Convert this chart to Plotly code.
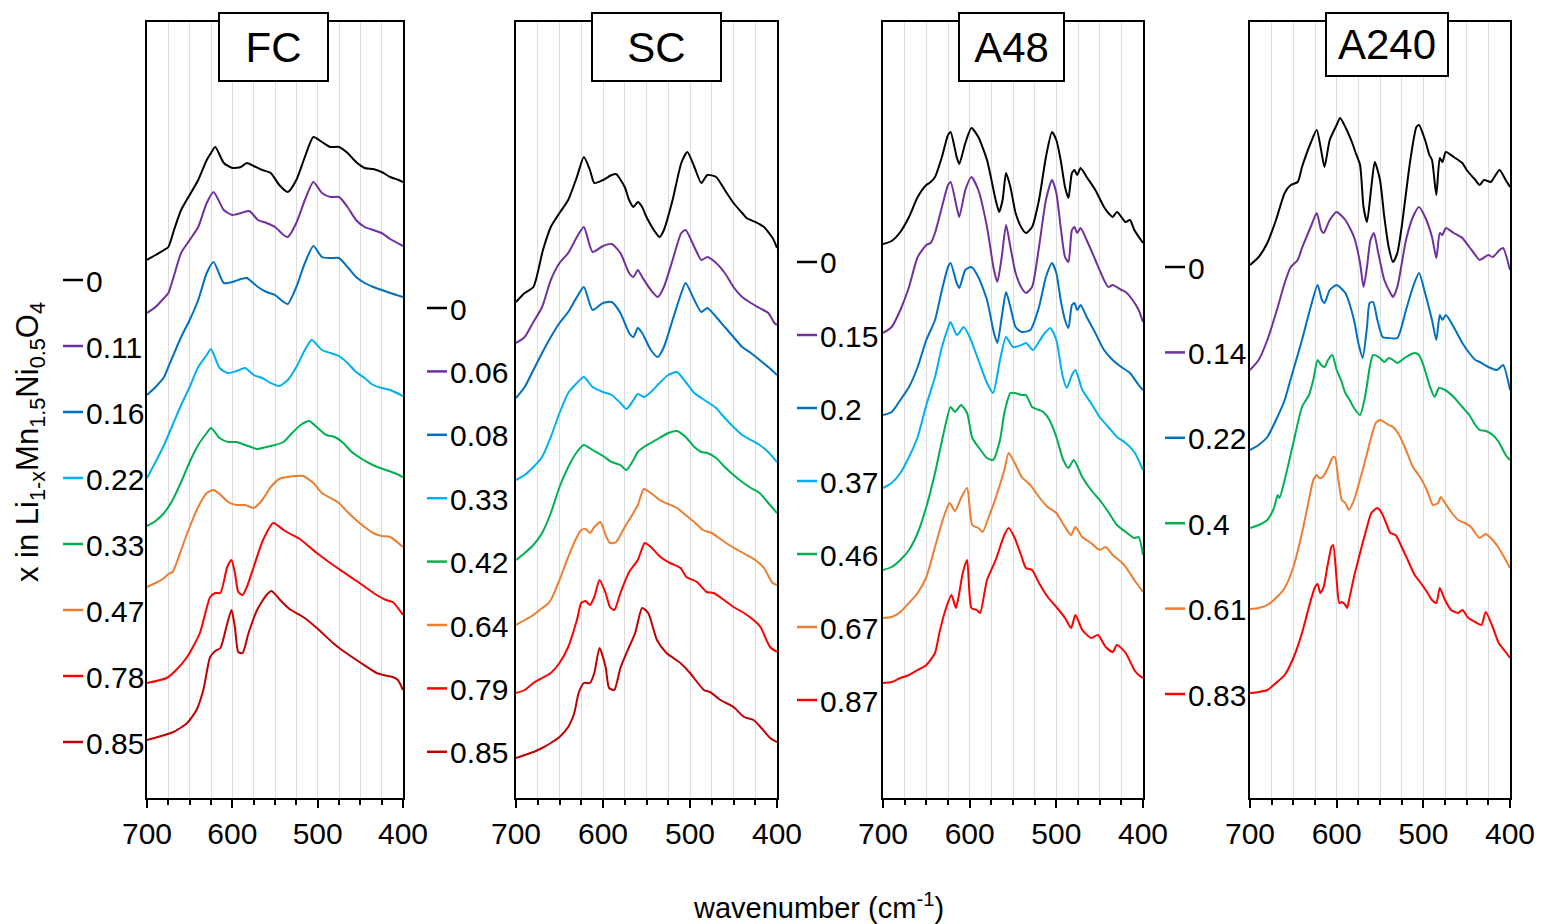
import plotly.graph_objects as go

# ---------------- data: (wavenumber cm-1, stacked absorbance, arb. units) ----------------
FC_LABELS = ["0", "0.11", "0.16", "0.22", "0.33", "0.47", "0.78", "0.85"]
SC_LABELS = ["0", "0.06", "0.08", "0.33", "0.42", "0.64", "0.79", "0.85"]
A48_LABELS = ["0", "0.15", "0.2", "0.37", "0.46", "0.67", "0.87"]
A240_LABELS = ["0", "0.14", "0.22", "0.4", "0.61", "0.83"]

BLACK, PURPLE, BLUE, LBLUE = "#000000", "#7030A0", "#0070C0", "#00B0F0"
GREEN, ORANGE, RED, DRED = "#00B050", "#ED7D31", "#FF0000", "#C00000"
FC_COLORS = [BLACK, PURPLE, BLUE, LBLUE, GREEN, ORANGE, RED, DRED]
SC_COLORS = [BLACK, PURPLE, BLUE, LBLUE, GREEN, ORANGE, RED, DRED]
A48_COLORS = [BLACK, PURPLE, BLUE, LBLUE, GREEN, ORANGE, RED]
A240_COLORS = [BLACK, PURPLE, BLUE, GREEN, ORANGE, RED]

fc_0 = [(700,538),(690,543),(680,548),(675,551),(668,569),(660,588),(650,603),(640,618),(630,638),(625,645),(620,651),(610,635),(600,630),(590,631),(583,635),(575,632),(565,628),(555,625),(545,613),(535,606),(525,618),(515,641),(505,661),(495,656),(485,651),(475,651),(465,645),(455,636),(445,630),(435,629),(425,626),(415,621),(405,618),(400,616)]
fc_011 = [(700,485),(690,491),(680,500),(675,505),(660,545),(650,558),(640,571),(630,595),(622,606),(610,588),(600,583),(590,585),(580,587),(570,578),(560,575),(550,571),(540,563),(535,561),(525,575),(515,598),(505,616),(495,605),(485,601),(475,601),(465,591),(455,578),(445,571),(435,568),(425,565),(415,559),(400,552)]
fc_016 = [(700,403),(690,411),(680,421),(675,431),(660,461),(650,478),(640,498),(630,525),(622,536),(610,515),(600,516),(590,519),(583,520),(570,511),(560,506),(550,503),(540,496),(535,494),(525,511),(515,535),(505,552),(495,541),(485,540),(475,540),(465,531),(455,521),(445,515),(435,511),(425,508),(415,505),(400,501)]
fc_022 = [(700,320),(690,336),(680,353),(670,373),(660,393),(650,411),(640,431),(630,443),(625,449),(615,430),(605,425),(595,427),(585,430),(575,423),(565,420),(555,415),(545,412),(535,418),(525,431),(515,448),(507,458),(495,448),(485,445),(475,442),(465,435),(455,426),(445,420),(435,413),(425,410),(415,408),(400,402)]
fc_033 = [(700,272),(690,277),(680,285),(670,298),(660,316),(650,336),(640,353),(630,365),(625,370),(615,360),(605,356),(595,356),(585,353),(575,350),(570,349),(560,351),(550,353),(540,356),(530,365),(520,373),(510,377),(500,370),(490,363),(480,361),(470,355),(460,346),(450,340),(440,335),(430,331),(420,328),(410,325),(400,321)]
fc_047 = [(700,211),(690,215),(680,220),(675,224),(670,226),(665,236),(660,248),(650,271),(640,291),(630,305),(622,308),(615,304),(605,296),(595,293),(585,293),(575,290),(565,298),(555,311),(545,319),(535,321),(525,322),(517,322),(505,315),(495,305),(485,300),(475,295),(465,286),(455,278),(445,271),(435,265),(425,262),(415,261),(400,251)]
fc_078 = [(700,115),(677,120),(667,127),(653,141),(638,165),(626,201),(620,205),(614,205),(606,231),(601,238),(597,225),(593,206),(588,203),(583,211),(575,231),(564,258),(552,275),(540,268),(532,264),(521,259),(501,245),(482,233),(470,226),(451,215),(431,203),(420,198),(412,196),(400,183)]
fc_085 = [(700,58),(669,66),(653,75),(642,88),(634,108),(626,141),(620,147),(614,150),(607,171),(601,188),(597,171),(593,146),(588,145),(581,165),(571,188),(560,203),(554,207),(544,198),(533,189),(517,181),(501,170),(482,155),(470,147),(451,136),(431,125),(423,123),(412,121),(406,118),(400,108)]

sc_0 = [(700,496),(690,505),(680,511),(669,548),(660,571),(650,585),(640,598),(630,621),(622,641),(615,628),(610,615),(600,618),(590,623),(585,624),(575,611),(570,598),(565,591),(560,596),(555,591),(550,581),(540,566),(535,561),(530,568),(520,598),(510,635),(503,646),(495,631),(487,615),(480,623),(470,621),(460,608),(450,595),(440,585),(435,580),(425,576),(415,571),(405,560),(400,550)]
sc_006 = [(700,455),(690,461),(680,476),(670,491),(660,518),(650,535),(640,545),(630,561),(622,571),(612,546),(600,552),(590,554),(580,545),(570,525),(565,521),(560,528),(555,521),(545,508),(537,501),(530,511),(520,538),(510,565),(505,568),(495,551),(487,538),(480,541),(470,535),(460,525),(450,511),(440,501),(430,495),(420,490),(410,485),(403,475),(400,473)]
sc_008 = [(700,400),(690,411),(680,428),(670,445),(660,461),(650,475),(640,486),(630,501),(622,511),(612,488),(600,495),(590,496),(580,485),(570,465),(565,461),(560,470),(555,465),(545,448),(537,441),(530,451),(520,478),(510,505),(505,515),(495,498),(487,486),(480,490),(470,481),(460,471),(450,461),(440,451),(430,445),(420,438),(410,431),(400,423)]
sc_033 = [(700,318),(690,323),(680,331),(670,341),(660,361),(650,385),(640,405),(630,415),(622,421),(612,411),(600,406),(590,403),(580,395),(573,389),(565,398),(560,404),(553,401),(545,406),(535,415),(525,423),(515,426),(505,416),(495,405),(487,400),(480,396),(470,390),(460,380),(450,371),(440,363),(430,358),(420,353),(410,346),(400,336)]
sc_042 = [(700,238),(690,245),(680,253),(670,265),(660,285),(650,311),(640,331),(630,346),(622,353),(612,348),(600,342),(590,336),(580,333),(573,328),(565,338),(560,346),(553,351),(545,355),(535,360),(525,365),(515,367),(505,361),(495,351),(487,346),(480,345),(470,340),(460,331),(450,323),(440,316),(430,310),(420,305),(410,295),(400,285)]
sc_064 = [(700,173),(690,178),(680,183),(670,190),(665,193),(660,198),(650,218),(640,241),(630,261),(625,268),(620,269),(615,265),(610,271),(603,276),(597,263),(592,255),(585,256),(575,271),(565,285),(560,293),(553,309),(545,305),(535,298),(525,294),(515,290),(505,283),(495,276),(485,268),(475,265),(465,259),(455,253),(445,248),(435,243),(425,238),(415,230),(405,215),(400,213)]
sc_079 = [(700,105),(690,108),(680,115),(670,120),(660,125),(650,135),(640,151),(630,178),(625,195),(620,197),(615,193),(610,201),(604,218),(597,205),(592,191),(587,188),(580,205),(570,226),(560,238),(552,255),(545,251),(534,241),(523,235),(511,230),(504,221),(492,216),(481,206),(473,205),(461,198),(450,191),(438,185),(427,178),(419,171),(408,151),(400,146)]
sc_085 = [(700,40),(690,43),(680,46),(670,50),(660,55),(650,61),(640,71),(633,85),(628,105),(622,115),(615,115),(610,125),(604,150),(597,131),(593,110),(587,108),(580,130),(570,151),(563,165),(555,190),(548,185),(538,158),(527,145),(511,135),(500,125),(484,108),(477,106),(465,98),(450,91),(438,81),(427,78),(419,71),(408,60),(400,56)]

a48_0 = [(700,554),(690,557),(680,566),(670,581),(660,601),(650,613),(645,616),(640,621),(632,641),(625,663),(622,666),(615,641),(612,634),(605,655),(598,670),(590,661),(580,638),(570,598),(566,586),(562,598),(558,625),(553,611),(547,585),(540,570),(535,565),(528,571),(520,598),(512,641),(505,666),(500,658),(495,638),(490,611),(486,600),(482,625),(479,628),(476,623),(472,630),(465,621),(455,608),(445,591),(440,585),(435,581),(430,586),(420,576),(415,578),(410,568),(400,555)]
a48_015 = [(700,465),(690,471),(680,488),(670,511),(660,541),(650,553),(645,555),(640,565),(632,591),(625,613),(622,616),(615,591),(612,581),(605,608),(598,621),(590,608),(580,571),(572,528),(568,516),(563,541),(558,573),(553,551),(547,525),(540,510),(535,505),(528,511),(520,551),(512,598),(505,618),(500,605),(495,571),(490,541),(486,536),(482,568),(479,571),(476,565),(472,570),(465,558),(455,538),(445,518),(440,511),(435,513),(425,508),(420,506),(412,498),(405,488),(400,476)]
a48_02 = [(700,383),(690,386),(680,398),(670,411),(660,431),(650,458),(640,478),(632,508),(625,531),(622,535),(615,515),(612,510),(605,528),(598,531),(590,521),(580,498),(572,465),(568,455),(563,481),(558,506),(553,491),(547,471),(540,466),(530,468),(520,491),(512,521),(505,535),(500,525),(495,498),(490,478),(486,470),(482,493),(479,495),(476,488),(472,493),(465,481),(455,465),(445,448),(435,438),(425,431),(415,425),(405,413),(400,408)]
a48_037 = [(700,310),(690,315),(680,325),(670,341),(660,361),(650,393),(640,421),(632,451),(625,470),(622,476),(615,463),(612,465),(607,471),(600,461),(590,438),(580,415),(573,405),(565,438),(558,461),(550,451),(540,453),(535,455),(527,448),(515,463),(507,470),(500,458),(493,423),(488,410),(482,423),(478,428),(470,408),(460,395),(450,381),(440,371),(430,361),(420,355),(410,346),(400,328)]
a48_046 = [(700,228),(690,231),(680,238),(670,248),(660,265),(650,291),(640,325),(630,365),(622,391),(617,386),(610,393),(603,385),(597,360),(590,351),(580,340),(573,338),(565,358),(560,385),(553,405),(548,405),(540,403),(535,403),(528,391),(520,388),(515,386),(508,378),(500,361),(492,338),(486,330),(480,338),(470,321),(460,308),(450,298),(440,286),(430,273),(420,266),(410,260),(405,261),(400,243)]
a48_067 = [(700,180),(690,181),(680,186),(670,195),(660,205),(650,221),(640,251),(630,281),(623,295),(617,287),(610,300),(603,310),(597,273),(590,270),(585,266),(578,281),(570,300),(560,328),(555,345),(548,335),(540,321),(530,313),(520,301),(510,291),(500,285),(490,271),(483,263),(478,271),(470,261),(460,255),(450,248),(443,251),(435,243),(425,236),(420,231),(410,218),(400,206)]
a48_087 = [(700,115),(690,116),(680,120),(670,123),(660,128),(650,133),(640,145),(635,165),(628,188),(621,203),(616,190),(613,200),(608,225),(603,238),(598,190),(592,188),(588,185),(580,218),(570,238),(560,263),(555,270),(548,260),(540,241),(535,230),(528,228),(520,215),(510,201),(500,191),(490,180),(483,170),(478,183),(470,168),(460,160),(452,163),(443,151),(435,146),(430,153),(420,145),(410,128),(405,123),(400,120)]

a240_0 = [(700,533),(690,541),(680,555),(670,578),(660,605),(653,613),(645,616),(640,631),(630,655),(623,668),(618,648),(614,631),(608,658),(600,673),(596,680),(590,671),(582,655),(578,645),(573,633),(569,591),(565,576),(560,611),(556,636),(550,618),(545,581),(540,551),(535,536),(530,545),(525,571),(515,638),(508,671),(505,673),(498,658),(493,643),(490,638),(485,603),(481,640),(478,636),(474,646),(465,641),(455,635),(450,628),(440,618),(435,613),(430,618),(422,616),(418,621),(412,628),(405,618),(400,611)]
a240_014 = [(700,428),(690,438),(680,458),(670,485),(660,515),(653,531),(645,538),(640,550),(630,571),(623,585),(618,568),(615,565),(608,578),(600,586),(590,578),(580,561),(573,535),(569,511),(565,531),(561,558),(557,565),(552,545),(545,518),(538,505),(535,501),(530,511),(520,558),(512,581),(505,591),(498,581),(490,561),(485,540),(481,565),(478,563),(474,570),(465,565),(455,560),(447,551),(440,543),(435,538),(425,543),(420,541),(412,548),(408,550),(400,528)]
a240_022 = [(700,348),(690,353),(680,361),(670,378),(660,398),(655,413),(650,428),(640,458),(630,491),(622,513),(617,498),(614,495),(608,508),(600,513),(590,505),(580,478),(575,455),(570,440),(565,471),(562,495),(558,496),(553,478),(547,461),(540,460),(530,460),(520,488),(512,511),(505,525),(498,505),(490,478),(485,458),(481,483),(478,478),(474,483),(465,471),(455,455),(447,445),(440,438),(435,436),(425,431),(415,428),(408,433),(400,408)]
a240_04 = [(700,270),(690,273),(680,278),(675,285),(672,291),(668,303),(666,300),(660,318),(650,355),(640,391),(632,403),(627,418),(622,438),(618,433),(614,431),(610,438),(605,443),(600,428),(595,418),(590,405),(585,398),(580,390),(573,383),(568,398),(565,413),(562,430),(558,443),(550,440),(545,436),(540,440),(535,438),(530,435),(520,441),(510,445),(505,443),(500,433),(493,413),(487,401),(482,410),(475,408),(465,401),(455,391),(447,383),(440,373),(435,368),(428,367),(420,363),(413,356),(405,343),(400,338)]
a240_061 = [(700,189),(690,190),(680,193),(670,200),(660,210),(650,231),(640,265),(632,298),(627,318),(623,323),(620,320),(616,321),(610,330),(605,340),(602,341),(598,318),(594,298),(590,295),(586,288),(580,298),(570,328),(560,361),(555,375),(550,378),(545,376),(540,373),(535,371),(528,363),(520,348),(512,331),(503,320),(495,306),(489,293),(483,295),(480,301),(475,295),(467,285),(460,278),(452,275),(445,271),(440,265),(435,260),(428,264),(420,258),(413,250),(405,238),(400,230)]
a240_083 = [(700,105),(690,106),(680,108),(670,115),(660,123),(650,140),(640,165),(632,191),(625,211),(622,214),(619,205),(615,211),(611,230),(606,251),(604,253),(600,218),(597,195),(594,196),(590,193),(588,190),(585,201),(580,221),(570,255),(565,271),(560,285),(553,290),(548,285),(543,275),(538,265),(532,263),(525,251),(518,238),(510,223),(503,215),(495,205),(490,198),(485,195),(481,210),(475,198),(468,188),(460,185),(455,188),(448,180),(440,176),(433,173),(428,186),(420,171),(413,155),(405,146),(400,140)]

X_TICKS = [700, 600, 500, 400]

# ---------------- layout (pixels of the 1541x924 page) ----------------
W, H = 1541, 924
FONT = "Arial, Liberation Sans, Helvetica, sans-serif"
PANEL_PX = [(147, 403), (516, 777), (883, 1143), (1250, 1510)]
PLOT_TOP, PLOT_BOTTOM = 22, 798
TITLE_BOX = [(219, 328, 13, 81), (592, 721, 13, 81), (959, 1064, 13, 81), (1326, 1448, 13, 76)]
LABEL_X = [63, 427, 797, 1165]
LABEL_Y0 = [280, 308, 262, 267]
LABEL_DY = [66, 63.4, 73, 85.4]

panels = [
    ("FC", [fc_0, fc_011, fc_016, fc_022, fc_033, fc_047, fc_078, fc_085], FC_LABELS, FC_COLORS),
    ("SC", [sc_0, sc_006, sc_008, sc_033, sc_042, sc_064, sc_079, sc_085], SC_LABELS, SC_COLORS),
    ("A48", [a48_0, a48_015, a48_02, a48_037, a48_046, a48_067, a48_087], A48_LABELS, A48_COLORS),
    ("A240", [a240_0, a240_014, a240_022, a240_04, a240_061, a240_083], A240_LABELS, A240_COLORS),
]

def px_x(x):
    return x / W

def px_y(y):
    return 1 - y / H

fig = go.Figure()
annotations = []
shapes = []

for i, (name, curves, labels, colors) in enumerate(panels):
    suf = "" if i == 0 else str(i + 1)
    for curve, col in zip(curves, colors):
        fig.add_trace(go.Scatter(
            x=[p[0] for p in curve], y=[p[1] for p in curve], mode="lines",
            line=dict(color=col, width=2, shape="spline", smoothing=0.6),
            xaxis="x" + suf, yaxis="y" + suf, showlegend=False, hoverinfo="skip"))
    x0, x1 = PANEL_PX[i]
    fig.layout["xaxis" + suf] = dict(
        domain=[px_x(x0), px_x(x1)], range=[700, 400], anchor="y" + suf,
        tickmode="array", tickvals=X_TICKS, ticktext=[str(t) for t in X_TICKS],
        ticks="outside", ticklen=8, tickwidth=2, tickcolor="black", automargin=False,
        showline=True, linecolor="black", linewidth=2, mirror=True,
        showgrid=True, gridcolor="#dcdcdc", gridwidth=1, zeroline=False,
        minor=dict(dtick=25, tick0=400, ticks="outside", ticklen=5, tickwidth=1.5,
                   tickcolor="black", showgrid=True, gridcolor="#dcdcdc", gridwidth=1),
        tickfont=dict(family=FONT, size=30, color="black"))
    fig.layout["yaxis" + suf] = dict(
        domain=[px_y(PLOT_BOTTOM), px_y(PLOT_TOP)], range=[0, 776], anchor="x" + suf,
        showticklabels=False, ticks="", showgrid=False, zeroline=False, automargin=False,
        showline=True, linecolor="black", linewidth=2, mirror=True)

    # title box
    bx0, bx1, by0, by1 = TITLE_BOX[i]
    annotations.append(dict(
        x=px_x((bx0 + bx1) / 2), y=px_y((by0 + by1) / 2), xref="paper", yref="paper",
        text=name, showarrow=False, xanchor="center", yanchor="middle",
        font=dict(family=FONT, size=42, color="black"),
        bgcolor="white", bordercolor="black", borderwidth=2, borderpad=0,
        width=bx1 - bx0 - 2, height=by1 - by0 - 2))

    # series labels (coloured dash + black value)
    for j, (lab, col) in enumerate(zip(labels, colors)):
        yy = LABEL_Y0[i] + j * LABEL_DY[i]
        lx = LABEL_X[i]
        shapes.append(dict(type="line", xref="paper", yref="paper",
                           x0=px_x(lx), x1=px_x(lx + 20), y0=px_y(yy), y1=px_y(yy),
                           line=dict(color=col, width=2.5)))
        annotations.append(dict(
            x=px_x(lx + 21), y=px_y(yy + 1), xref="paper", yref="paper", text=lab,
            showarrow=False, xanchor="left", yanchor="middle",
            font=dict(family=FONT, size=30, color="black")))

annotations.append(dict(
    x=px_x(30), y=px_y(442), xref="paper", yref="paper", textangle=-90,
    text="x in Li<sub>1-x</sub>Mn<sub>1.5</sub>Ni<sub>0.5</sub>O<sub>4</sub>",
    showarrow=False, xanchor="center", yanchor="middle",
    font=dict(family=FONT, size=31, color="black")))
annotations.append(dict(
    x=px_x(818), y=px_y(906), xref="paper", yref="paper",
    text="wavenumber (cm<sup>-1</sup>)", showarrow=False, xanchor="center", yanchor="middle",
    font=dict(family=FONT, size=29, color="black")))

fig.update_layout(
    width=W, height=H, margin=dict(l=0, r=0, t=0, b=0, pad=0, autoexpand=False),
    paper_bgcolor="white", plot_bgcolor="white",
    annotations=annotations, shapes=shapes,
    font=dict(family=FONT, color="black"))

fig.write_html("out.html")
